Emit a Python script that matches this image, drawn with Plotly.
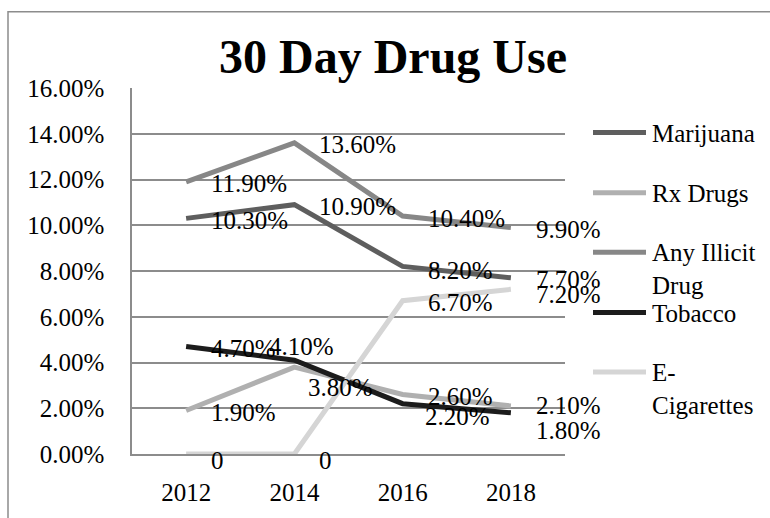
import plotly.graph_objects as go

# ---- data ----
years = ["2012", "2014", "2016", "2018"]
series_names = ["Marijuana", "Rx Drugs", "Any Illicit Drug", "Tobacco", "E-Cigarettes"]
marijuana = [10.3, 10.9, 8.2, 7.7]
rx_drugs = [1.9, 3.8, 2.6, 2.1]
any_illicit = [11.9, 13.6, 10.4, 9.9]
tobacco = [4.7, 4.1, 2.2, 1.8]
e_cigarettes = [0, 0, 6.7, 7.2]
y_ticks = [0, 2, 4, 6, 8, 10, 12, 14, 16]

series_values = [marijuana, rx_drugs, any_illicit, tobacco, e_cigarettes]

# ---- styles ----
W, H = 770, 518
PL, PR, PT, PB = 132, 565, 88, 458  # plot area in px
FONT = "Liberation Serif, Times New Roman, serif"
colors = ["#5e5e5e", "#b0b0b0", "#878787", "#1c1c1c", "#d5d5d5"]
legend_labels = ["Marijuana", "Rx Drugs", "Any Illicit<br>Drug", "Tobacco", "E-<br>Cigarettes"]
GRID = "#8c8c8c"

# label offsets (px) per series/point: (xshift, yshift)
default_off = (23, -2)
label_offsets = {
    (0, 2): (23, -4),
    (1, 1): (12, -20),
    (1, 3): (23, 0),
    (3, 1): (-27, 14),
    (3, 2): (20, -13),
    (3, 3): (23, -18),
    (4, 0): (23, -6),
    (4, 1): (23, -6),
    (4, 3): (23, -5),
}


def px_x(px):
    return (px - PL) / (PR - PL)


def px_y(py):
    return (PB - py) / (PB - PT)


fig = go.Figure()
for i, (name, vals) in enumerate(zip(series_names, series_values)):
    fig.add_trace(go.Scatter(
        x=years, y=vals, name=name, mode="lines",
        line=dict(color=colors[i], width=5),
        showlegend=False, hoverinfo="skip",
    ))

annotations = []
for i, vals in enumerate(series_values):
    for j, v in enumerate(vals):
        txt = "0" if v == 0 else f"{v:.2f}%"
        dx, dy = label_offsets.get((i, j), default_off)
        annotations.append(dict(
            x=j, y=v, xref="x", yref="y", text=txt, showarrow=False,
            xanchor="left", yanchor="middle", xshift=dx, yshift=dy,
            font=dict(family=FONT, size=25, color="#000000"),
        ))

# custom legend
leg_y = [133, 194, 254, 315, 375]
shapes = []
for i, lbl in enumerate(legend_labels):
    y = leg_y[i]
    shapes.append(dict(type="line", xref="paper", yref="paper",
                       x0=px_x(593), x1=px_x(646), y0=px_y(y), y1=px_y(y),
                       line=dict(color=colors[i], width=5)))
    annotations.append(dict(
        x=px_x(650), y=px_y(y - 15), xref="paper", yref="paper",
        text=lbl, showarrow=False, xanchor="left", yanchor="top", align="left",
        font=dict(family=FONT, size=25, color="#000000"),
    ))

# outer frame
shapes.append(dict(type="rect", xref="paper", yref="paper",
                   x0=px_x(8), x1=px_x(W + 20), y0=px_y(H + 20), y1=px_y(11),
                   line=dict(color=GRID, width=1.5), layer="below"))

fig.update_layout(
    width=W, height=H,
    margin=dict(l=PL, r=W - PR, t=PT, b=H - PB, pad=0),
    paper_bgcolor="white", plot_bgcolor="white",
    font=dict(family=FONT, size=25, color="#000000"),
    title=dict(text="<b>30 Day Drug Use</b>", x=px_x(393), xref="paper", xanchor="center",
               y=1 - 56 / H, yref="container", yanchor="middle",
               font=dict(family=FONT, size=48, color="#000000")),
    xaxis=dict(type="category", range=[-0.5, 3.5], showgrid=False, showline=True,
               linecolor=GRID, linewidth=1.5,
               ticks="outside", ticklen=15, tickcolor="rgba(0,0,0,0)", zeroline=False,
               tickfont=dict(family=FONT, size=25, color="#000000")),
    yaxis=dict(range=[0, 16], tickvals=y_ticks, ticktext=[f"{t:.2f}%" for t in y_ticks],
               showgrid=True, gridcolor=GRID, gridwidth=1.5, showline=True, linecolor=GRID,
               linewidth=1.5, ticks="outside", ticklen=21, tickcolor="rgba(0,0,0,0)",
               zeroline=False, tickfont=dict(family=FONT, size=25, color="#000000")),
    annotations=annotations, shapes=shapes,
)

fig.write_html("out.html")
